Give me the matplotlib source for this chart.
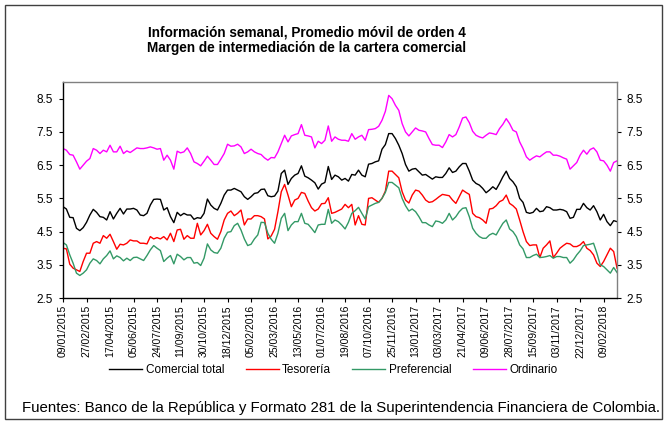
import numpy as np
import matplotlib
matplotlib.use("Agg")
import matplotlib.pyplot as plt
from matplotlib.patches import Rectangle

plt.rcParams['font.family'] = ['Liberation Sans', 'DejaVu Sans']

# weekly points, first week 09/01/2015
tick_labels = ["09/01/2015", "27/02/2015", "17/04/2015", "05/06/2015", "24/07/2015",
               "11/09/2015", "30/10/2015", "18/12/2015", "05/02/2016", "25/03/2016",
               "13/05/2016", "01/07/2016", "19/08/2016", "07/10/2016", "25/11/2016",
               "13/01/2017", "03/03/2017", "21/04/2017", "09/06/2017", "28/07/2017",
               "15/09/2017", "03/11/2017", "22/12/2017", "09/02/2018"]

comercial_total = [
    5.25, 5.18, 4.93, 4.92, 4.60, 4.53, 4.62, 4.78, 5.00, 5.17,
    5.08, 4.95, 4.93, 4.85, 5.10, 4.88, 5.05, 5.20, 5.03, 5.18,
    5.18, 5.20, 5.15, 5.00, 4.98, 5.05, 5.30, 5.47, 5.48, 5.47,
    5.15, 5.22, 4.95, 4.77, 5.08, 4.98, 5.05, 5.00, 5.00, 4.87,
    4.92, 4.90, 5.05, 5.48, 5.30, 5.20, 5.15, 5.35, 5.60, 5.75,
    5.75, 5.80, 5.75, 5.70, 5.55, 5.47, 5.55, 5.65, 5.67, 5.77,
    5.78, 5.58, 5.55, 5.57, 5.72, 6.25, 6.35, 5.92, 6.10, 6.20,
    6.25, 6.48, 6.17, 6.12, 6.05, 5.97, 5.78, 5.93, 5.98, 6.46,
    6.07, 6.20, 6.15, 6.05, 6.10, 6.02, 6.22, 6.20, 6.35, 6.20,
    6.15, 6.53, 6.55, 6.60, 6.63, 6.98, 7.12, 7.45, 7.45, 7.30,
    7.10, 6.85, 6.52, 6.32, 6.38, 6.40, 6.30, 6.20, 6.22, 6.15,
    6.08, 6.15, 6.13, 6.13, 6.25, 6.42, 6.28, 6.32, 6.45, 6.55,
    6.55, 6.32, 6.05, 5.95, 5.90, 5.80, 5.67, 5.75, 5.85, 5.77,
    5.95, 6.15, 6.32, 6.10, 6.00, 5.85, 5.50, 5.38, 5.08, 5.05,
    5.08, 5.20, 5.10, 5.12, 5.25, 5.22, 5.15, 5.15, 5.17, 5.15,
    5.10, 4.90, 4.93, 5.17, 5.17, 5.35, 5.22, 5.15, 5.28, 5.10,
    4.85, 5.02, 4.80, 4.68, 4.83, 4.80]

tesoreria = [
    4.00, 3.98, 3.52, 3.40, 3.35, 3.30, 3.60, 3.85, 3.85, 4.15,
    4.20, 4.15, 4.38, 4.30, 4.42, 4.20, 3.97, 4.12, 4.10, 4.15,
    4.25, 4.22, 4.22, 4.15, 4.15, 4.13, 4.35, 4.28, 4.32, 4.28,
    4.35, 4.25, 4.45, 4.20, 4.55, 4.57, 4.27, 4.38, 4.30, 4.30,
    4.75, 4.40, 4.53, 4.72, 4.45, 4.35, 4.27, 4.50, 4.85, 5.05,
    5.12, 4.98, 5.05, 5.15, 4.70, 4.88, 4.88, 4.98, 4.98, 4.95,
    4.88, 4.28, 4.37, 4.57, 5.10, 5.70, 5.92, 5.60, 5.25, 5.45,
    5.50, 5.68, 5.65, 5.42, 5.22, 5.12, 5.18, 5.34, 5.35, 5.52,
    5.05, 5.08, 5.13, 5.18, 5.32, 5.22, 5.32, 4.70, 4.98, 4.72,
    4.70, 5.50, 5.52, 5.45, 5.38, 5.50, 5.72, 6.32, 6.32, 6.22,
    6.12, 5.70, 5.45, 5.36, 5.60, 5.75, 5.72, 5.60, 5.45, 5.38,
    5.40, 5.47, 5.55, 5.62, 5.60, 5.58, 5.45, 5.35, 5.55, 5.75,
    5.68, 5.62, 5.05, 4.95, 4.92, 4.85, 4.75, 5.18, 5.20, 5.28,
    5.40, 5.45, 5.60, 5.35, 5.28, 5.18, 4.85, 4.50, 4.20, 4.08,
    4.10, 4.10, 3.72, 4.00, 4.10, 4.22, 3.72, 3.85, 4.00, 4.08,
    4.15, 4.13, 4.05, 4.05, 4.10, 4.20, 4.00, 3.93, 3.80, 3.55,
    3.45, 3.60, 3.80, 4.00, 3.90, 3.40]

preferencial = [
    4.17, 4.10, 3.80, 3.55, 3.25, 3.18, 3.25, 3.35, 3.55, 3.68,
    3.63, 3.53, 3.68, 3.78, 3.92, 3.68, 3.77, 3.72, 3.62, 3.70,
    3.63, 3.72, 3.73, 3.68, 3.63, 3.78, 3.95, 4.08, 4.00, 3.93,
    3.60, 3.70, 3.78, 3.53, 3.82, 3.75, 3.65, 3.72, 3.72, 3.55,
    3.57, 3.48, 3.70, 4.13, 3.95, 3.87, 3.85, 4.00, 4.30, 4.48,
    4.50, 4.68, 4.75, 4.55, 4.28, 4.08, 4.12, 4.28, 4.40, 4.78,
    4.77, 4.45, 4.27, 4.15, 4.45, 4.90, 5.05, 4.53, 4.70, 4.80,
    4.80, 5.05, 4.75, 4.72, 4.60, 4.47, 4.70, 4.72, 4.72, 5.17,
    4.75, 4.85, 4.80, 4.70, 4.58, 4.78, 5.05, 5.13, 5.23, 5.05,
    4.88, 5.25, 5.30, 5.35, 5.38, 5.50, 5.68, 5.98, 5.98, 5.90,
    5.82, 5.50, 5.28, 5.12, 5.18, 5.10, 4.95, 4.77, 4.77, 4.70,
    4.65, 4.82, 4.80, 4.75, 4.85, 5.05, 4.85, 4.95, 5.10, 5.20,
    5.22, 4.95, 4.60, 4.45, 4.35, 4.30, 4.30, 4.40, 4.45, 4.40,
    4.58, 4.75, 4.85, 4.58, 4.50, 4.35, 4.10, 3.98, 3.72, 3.72,
    3.78, 3.82, 3.72, 3.73, 3.75, 3.78, 3.70, 3.75, 3.75, 3.72,
    3.72, 3.55, 3.65, 3.80, 3.92, 4.08, 4.10, 4.12, 4.15, 3.85,
    3.50, 3.45, 3.35, 3.25, 3.42, 3.27]

ordinario = [
    7.00, 6.95, 6.82, 6.80, 6.60, 6.38, 6.50, 6.62, 6.70, 7.00,
    6.95, 6.85, 6.95, 6.90, 7.10, 6.90, 6.90, 7.07, 6.85, 6.93,
    6.88, 6.95, 7.02, 7.00, 7.00, 7.02, 7.05, 7.02, 6.98, 7.00,
    6.65, 6.80, 6.65, 6.38, 6.92, 6.87, 6.90, 7.02, 6.85, 6.60,
    6.55, 6.48, 6.62, 6.77, 6.65, 6.52, 6.52, 6.68, 6.85, 7.13,
    7.07, 7.08, 7.13, 7.05, 6.85, 6.90, 6.98, 6.90, 6.85, 6.82,
    6.72, 6.65, 6.73, 6.72, 6.90, 7.15, 7.40, 7.20, 7.38, 7.42,
    7.45, 7.72, 7.40, 7.38, 7.35, 7.02, 7.22, 7.15, 7.25, 7.68,
    7.22, 7.35, 7.28, 7.25, 7.25, 7.22, 7.45, 7.28, 7.35, 7.40,
    7.25, 7.57, 7.58, 7.60, 7.67, 7.85, 8.12, 8.60, 8.50, 8.30,
    8.15, 7.75, 7.50, 7.38, 7.50, 7.62, 7.55, 7.53, 7.50, 7.30,
    7.12, 7.10, 7.10, 7.03, 7.20, 7.42, 7.35, 7.42, 7.65, 7.92,
    7.95, 7.78, 7.52, 7.40, 7.35, 7.32, 7.40, 7.47, 7.45, 7.42,
    7.60, 7.73, 7.90, 7.75, 7.55, 7.50, 7.20, 7.00, 6.75, 6.65,
    6.72, 6.78, 6.75, 6.83, 6.90, 6.90, 6.80, 6.80, 6.77, 6.72,
    6.68, 6.38, 6.48, 6.58, 6.80, 6.95, 6.83, 6.97, 7.02, 6.90,
    6.65, 6.63, 6.50, 6.32, 6.58, 6.63]

series = [("Comercial total", comercial_total, "#000000"),
          ("Tesorería", tesoreria, "#FF0000"),
          ("Preferencial", preferencial, "#339966"),
          ("Ordinario", ordinario, "#FF00FF")]

fig = plt.figure(figsize=(6.67, 4.21), dpi=100)
ax = fig.add_axes([0.0945, 0.292, 0.8306, 0.513])

x = np.arange(len(comercial_total))
for name, vals, col in series:
    ax.plot(x, vals, color=col, lw=1.0, label=name)

ax.set_xlim(0, len(x) - 1)
ax.set_ylim(2.5, 9.0)
yt = np.arange(2.5, 8.6, 1.0)
ax.set_yticks(yt)
ax.set_yticklabels(["%.1f" % v for v in yt], fontsize=8.5)
ax.tick_params(axis='y', direction='out', length=3, width=0.8, pad=4,
               right=True, labelright=True)
ax.set_xticks(np.arange(0, len(x), 7)[:len(tick_labels)])
ax.set_xticklabels(tick_labels, rotation=90, fontsize=7.5)
ax.tick_params(axis='x', direction='out', length=3, width=0.8, pad=2)

for side in ['top', 'right']:
    ax.spines[side].set_color('#808080')
for side in ['left', 'bottom']:
    ax.spines[side].set_color('#000000')
for s in ax.spines.values():
    s.set_linewidth(1.0)

fig.text(0.46, 0.922, "Información semanal, Promedio móvil de orden 4",
         ha='center', va='center', fontsize=9.8, fontweight='bold')
fig.text(0.46, 0.887, "Margen de intermediación de la cartera comercial",
         ha='center', va='center', fontsize=9.8, fontweight='bold')

fig.legend(loc='center', bbox_to_anchor=(0.5, 0.121), ncol=4, frameon=False,
           fontsize=8.5, handlelength=2.8, columnspacing=1.8, handletextpad=0.3)

fig.text(0.033, 0.031, "Fuentes: Banco de la República y Formato 281 de la "
         "Superintendencia Financiera de Colombia.",
         ha='left', va='center', fontsize=10.8)

fig.add_artist(Rectangle((0.008, 0.004), 0.984, 0.985, transform=fig.transFigure,
                         fill=False, edgecolor='#404040', lw=1.0))

fig.savefig("out.png", dpi=100)
